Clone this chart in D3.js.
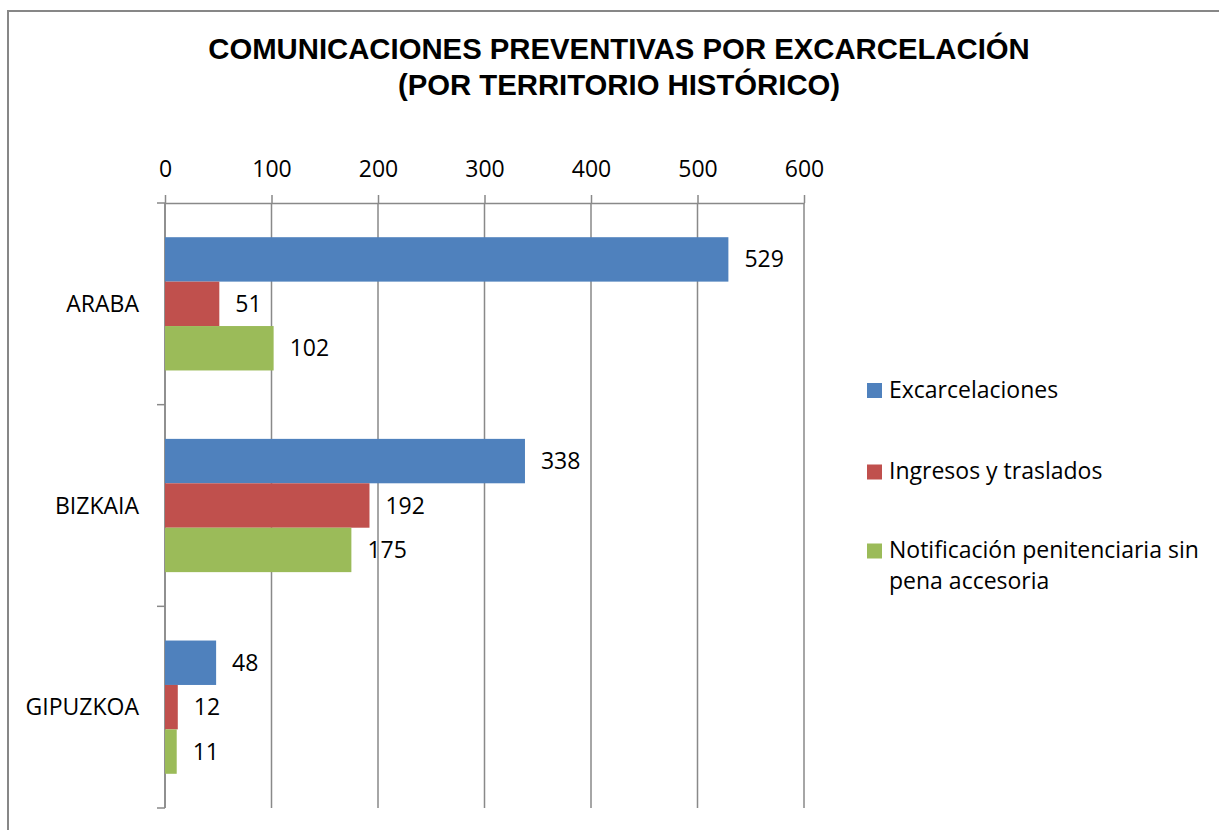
<!DOCTYPE html>
<html>
<head>
<meta charset="utf-8">
<script src="https://cdn.jsdelivr.net/npm/d3@7"></script>
<style>
  html, body { margin: 0; padding: 0; background: #fff; }
  svg { display: block; }
</style>
</head>
<body>
<svg id="chart" width="1219" height="830"></svg>
<script>
const categories = ["ARABA", "BIZKAIA", "GIPUZKOA"];
const seriesNames = ["Excarcelaciones", "Ingresos y traslados", "Notificación penitenciaria sin pena accesoria"];
const excarcelaciones = [529, 338, 48];
const ingresos = [51, 192, 12];
const notificacion = [102, 175, 11];
const tickValues = [0, 100, 200, 300, 400, 500, 600];
const colors = ["#4F81BD", "#C0504D", "#9BBB59"];
const titleLines = ["COMUNICACIONES PREVENTIVAS POR EXCARCELACIÓN", "(POR TERRITORIO HISTÓRICO)"];
const legendLines = [["Excarcelaciones"], ["Ingresos y traslados"], ["Notificación penitenciaria sin", "pena accesoria"]];

const seriesValues = [excarcelaciones, ingresos, notificacion];
const FONT = "'Open Sans', sans-serif";
const FS = 23;
const GRID = "#898989";

const svg = d3.select("#chart");

// outer border
svg.append("rect").attr("x", 8).attr("y", 11).attr("width", 1230).attr("height", 840)
  .attr("fill", "#fff").attr("stroke", "#878787").attr("stroke-width", 2);

// title
svg.append("g").selectAll("text").data(titleLines).join("text")
  .attr("x", 619).attr("y", (d, i) => 59 + i * 36)
  .attr("text-anchor", "middle")
  .attr("font-family", "'Liberation Sans', Arial, sans-serif")
  .attr("font-weight", "bold").attr("font-size", 29.3)
  .attr("fill", "#000").text(d => d);

const x = d3.scaleLinear().domain([0, 600]).range([165, 804]);
const y = d3.scaleBand().domain(categories).range([203, 808]).paddingInner(0).paddingOuter(0);
const ySub = d3.scaleBand().domain(d3.range(seriesNames.length)).range([0, y.bandwidth()])
  .paddingInner(0).paddingOuter(0.77);

// gridlines
svg.append("g").selectAll("line").data(tickValues).join("line")
  .attr("x1", d => x(d)).attr("x2", d => x(d))
  .attr("y1", 203).attr("y2", 808)
  .attr("stroke", GRID).attr("stroke-width", 1.5);

// top axis
const xAxis = svg.append("g").attr("transform", "translate(0,203)")
  .call(d3.axisTop(x).tickValues(tickValues).tickSize(8).tickSizeOuter(0).tickPadding(26).tickFormat(d3.format("d")));
xAxis.select(".domain").attr("stroke", GRID).attr("stroke-width", 1.5);
xAxis.selectAll(".tick line").attr("stroke", GRID).attr("stroke-width", 1.5);
xAxis.selectAll(".tick text").attr("font-family", FONT).attr("font-size", FS).attr("fill", "#000")
  .attr("dy", "0.35em");

// left axis line + boundary ticks
const boundaries = categories.map(c => y(c)).concat([y(categories[categories.length - 1]) + y.bandwidth()]);
svg.append("line").attr("x1", x(0)).attr("x2", x(0)).attr("y1", 203).attr("y2", 808)
  .attr("stroke", GRID).attr("stroke-width", 1.5);
svg.append("g").selectAll("line").data(boundaries).join("line")
  .attr("x1", x(0) - 8).attr("x2", x(0)).attr("y1", d => d).attr("y2", d => d)
  .attr("stroke", GRID).attr("stroke-width", 1.5);

// category labels
svg.append("g").selectAll("text").data(categories).join("text")
  .attr("x", 139).attr("y", d => y(d) + y.bandwidth() / 2)
  .attr("text-anchor", "end").attr("dy", "0.35em")
  .attr("font-family", FONT).attr("font-size", FS).attr("fill", "#000")
  .text(d => d);

// bars
const rows = [];
categories.forEach((c, ci) => seriesValues.forEach((vals, si) => rows.push({ c, si, v: vals[ci] })));
const barG = svg.append("g");
barG.selectAll("rect").data(rows).join("rect")
  .attr("x", x(0)).attr("y", d => y(d.c) + ySub(d.si))
  .attr("width", d => x(d.v) - x(0)).attr("height", ySub.bandwidth())
  .attr("fill", d => colors[d.si]);
barG.selectAll("text").data(rows).join("text")
  .attr("x", d => x(d.v) + 16).attr("y", d => y(d.c) + ySub(d.si) + ySub.bandwidth() / 2)
  .attr("dy", "0.35em")
  .attr("font-family", FONT).attr("font-size", FS).attr("fill", "#000")
  .text(d => d.v);

// legend
const legendY = [397.5, 479, 558];
const lg = svg.append("g").selectAll("g").data(seriesNames).join("g");
lg.append("rect").attr("x", 867).attr("y", (d, i) => legendY[i] - 14.5)
  .attr("width", 15).attr("height", 15).attr("fill", (d, i) => colors[i]);
lg.each(function (d, i) {
  d3.select(this).selectAll("text").data(legendLines[i]).join("text")
    .attr("x", 889).attr("y", (t, j) => legendY[i] + j * 31)
    .attr("font-family", FONT).attr("font-size", FS).attr("fill", "#000")
    .text(t => t);
});
</script>
</body>
</html>
